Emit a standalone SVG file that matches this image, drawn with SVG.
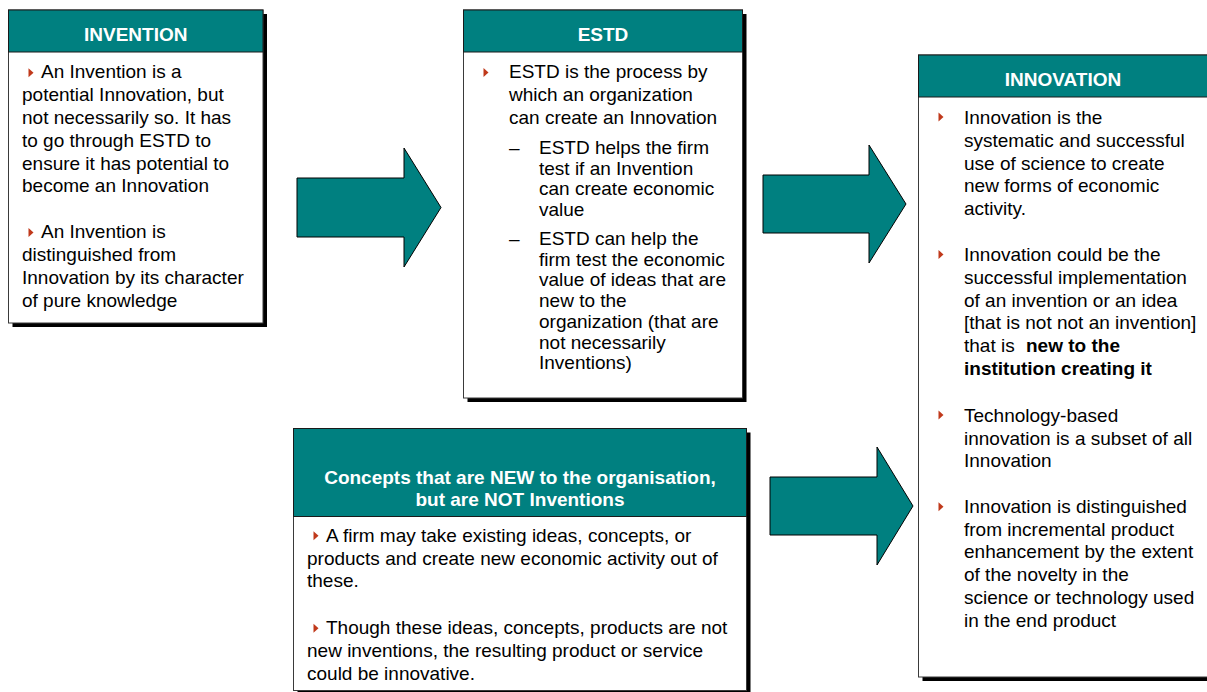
<svg xmlns="http://www.w3.org/2000/svg" width="1207" height="692" viewBox="0 0 1207 692">
  <style>
    text { font-family: "Liberation Sans", Arial, sans-serif; font-size: 19px; fill: #000; }
    .hd { font-weight: bold; fill: #fff; text-anchor: middle; }
    .b { font-weight: bold; }
    .shadow { fill: #000; }
    .body { fill: #fff; stroke: #3a3a3a; stroke-width: 1; }
    .head { fill: #008080; stroke: #1a1a1a; stroke-width: 1; }
    .arrow { fill: #008080; stroke: #000; stroke-width: 1; stroke-linejoin: miter; }
    .bul { fill: #C0391B; }
  </style>
  <defs>
    <path id="tri" d="M0,-4.5 L5,0 L0,4.5 Z"/>
  </defs>

  <rect width="1207" height="692" fill="#fff"/>

  <!-- connectors: block arrows -->
  <g id="connectors">
    <polygon class="arrow" points="297,178 404,178 404,148 441,207.5 404,267 404,237 297,237"/>
    <polygon class="arrow" points="763,175 869,175 869,145 906,204 869,263 869,233 763,233"/>
    <polygon class="arrow" points="770,477 877,477 877,447 913,506 877,565 877,535 770,535"/>
  </g>

  <!-- INVENTION -->
  <g id="invention">
    <rect class="shadow" x="12.5" y="14" width="254.5" height="313"/>
    <rect class="body" x="8.5" y="10" width="254.5" height="313"/>
    <rect class="head" x="8.5" y="10" width="254.5" height="42"/>
    <text class="hd" x="135.75" y="40.7">INVENTION</text>
    <use href="#tri" class="bul" x="28.5" y="72.8"/>
    <text x="41" y="78.3">An Invention is a</text>
    <text x="22" y="101.1">potential Innovation, but</text>
    <text x="22" y="123.9">not necessarily so. It has</text>
    <text x="22" y="146.7">to go through ESTD to</text>
    <text x="22" y="169.5">ensure it has potential to</text>
    <text x="22" y="192.3">become an Innovation</text>
    <use href="#tri" class="bul" x="28.5" y="232.5"/>
    <text x="41" y="238.3">An Invention is</text>
    <text x="22" y="261.1">distinguished from</text>
    <text x="22" y="283.9">Innovation by its character</text>
    <text x="22" y="306.7">of pure knowledge</text>
  </g>

  <!-- ESTD -->
  <g id="estd">
    <rect class="shadow" x="467.5" y="14" width="279" height="388"/>
    <rect class="body" x="463.5" y="10" width="279" height="388"/>
    <rect class="head" x="463.5" y="10" width="279" height="42"/>
    <text class="hd" x="603" y="40.7">ESTD</text>
    <use href="#tri" class="bul" x="483.5" y="72.5"/>
    <text x="509" y="78.3">ESTD is the process by</text>
    <text x="509" y="101.1">which an organization</text>
    <text x="509" y="123.9">can create an Innovation</text>
    <text x="509" y="154">–</text>
    <text x="539" y="154">ESTD helps the firm</text>
    <text x="539" y="174.7">test if an Invention</text>
    <text x="539" y="195.4">can create economic</text>
    <text x="539" y="216.1">value</text>
    <text x="509" y="245">–</text>
    <text x="539" y="245">ESTD can help the</text>
    <text x="539" y="265.7">firm test the economic</text>
    <text x="539" y="286.4">value of ideas that are</text>
    <text x="539" y="307.1">new to the</text>
    <text x="539" y="327.8">organization (that are</text>
    <text x="539" y="348.5">not necessarily</text>
    <text x="539" y="369.2">Inventions)</text>
  </g>

  <!-- INNOVATION -->
  <g id="innovation">
    <rect class="shadow" x="922.5" y="59" width="290" height="622"/>
    <rect class="body" x="918.5" y="55" width="290" height="622"/>
    <rect class="head" x="918.5" y="55" width="290" height="42"/>
    <text class="hd" x="1063" y="86">INNOVATION</text>
    <use href="#tri" class="bul" x="938.5" y="117"/>
    <text x="964" y="124">Innovation is the</text>
    <text x="964" y="146.8">systematic and successful</text>
    <text x="964" y="169.6">use of science to create</text>
    <text x="964" y="192.4">new forms of economic</text>
    <text x="964" y="215.2">activity.</text>
    <use href="#tri" class="bul" x="938.5" y="254.5"/>
    <text x="964" y="261">Innovation could be the</text>
    <text x="964" y="283.8">successful implementation</text>
    <text x="964" y="306.6">of an invention or an idea</text>
    <text x="964" y="329.4">[that is not not an invention]</text>
    <text x="964" y="352.2">that is <tspan class="b" x="1026">new to the</tspan></text>
    <text class="b" x="964" y="375">institution creating it</text>
    <use href="#tri" class="bul" x="938.5" y="415"/>
    <text x="964" y="421.7">Technology-based</text>
    <text x="964" y="444.5">innovation is a subset of all</text>
    <text x="964" y="467.3">Innovation</text>
    <use href="#tri" class="bul" x="938.5" y="506.7"/>
    <text x="964" y="512.7">Innovation is distinguished</text>
    <text x="964" y="535.5">from incremental product</text>
    <text x="964" y="558.3">enhancement by the extent</text>
    <text x="964" y="581.1">of the novelty in the</text>
    <text x="964" y="603.9">science or technology used</text>
    <text x="964" y="626.7">in the end product</text>
  </g>

  <!-- Concepts new to the organisation -->
  <g id="concepts">
    <rect class="shadow" x="297.5" y="432.5" width="453" height="262"/>
    <rect class="body" x="293.5" y="428.5" width="453" height="262"/>
    <rect class="head" x="293.5" y="428.5" width="453" height="88"/>
    <text class="hd" x="520" y="483.5">Concepts that are NEW to the organisation,</text>
    <text class="hd" x="520" y="506">but are NOT Inventions</text>
    <use href="#tri" class="bul" x="313.5" y="535.7"/>
    <text x="326" y="541.7">A firm may take existing ideas, concepts, or</text>
    <text x="307" y="564.5">products and create new economic activity out of</text>
    <text x="307" y="587.3">these.</text>
    <use href="#tri" class="bul" x="313.5" y="628.3"/>
    <text x="326" y="634.3">Though these ideas, concepts, products are not</text>
    <text x="307" y="657.1">new inventions, the resulting product or service</text>
    <text x="307" y="679.9">could be innovative.</text>
  </g>
</svg>
